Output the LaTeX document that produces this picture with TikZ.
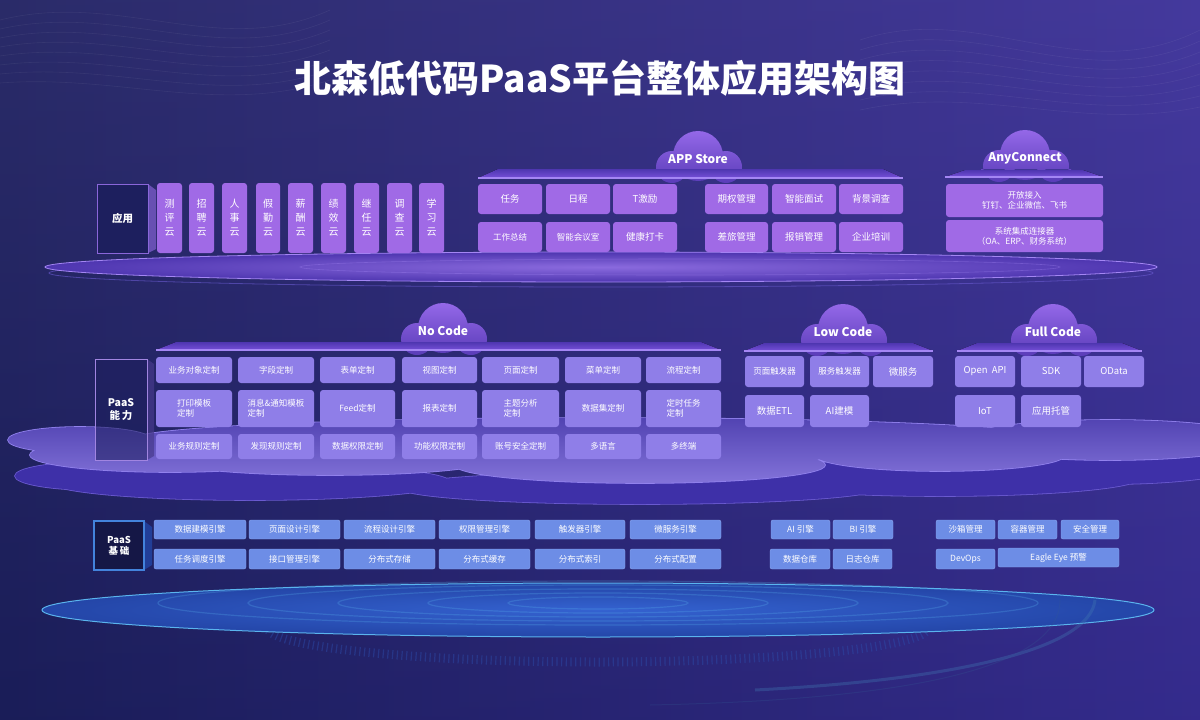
\documentclass[tikz,border=0pt]{standalone}
\usepackage{fontspec}
\setmainfont{Noto Sans CJK SC}
\definecolor{bgL}{HTML}{1A1D58}
\definecolor{bgR}{HTML}{3A2E98}
\definecolor{appC}{HTML}{A06AE6}
\definecolor{ncC}{HTML}{8F7EE8}
\definecolor{bsC}{HTML}{6D8DE6}
\definecolor{bsE}{HTML}{8AA6F0}
\definecolor{cldA}{HTML}{9468E8}
\definecolor{cldB}{HTML}{5A3CB8}
\definecolor{plA}{HTML}{4E36B0}
\definecolor{plB}{HTML}{7650D8}
\definecolor{plLine}{HTML}{A486F4}
\definecolor{lblFill}{HTML}{1D1F5E}
\definecolor{lblEdge}{HTML}{8A66DA}
\definecolor{cloudUp}{HTML}{6450D0}
\definecolor{cloudUpE}{HTML}{9282EE}
\definecolor{cloudLo}{HTML}{3E30A8}
\definecolor{cloudLoE}{HTML}{6A5AD0}
\definecolor{diskA}{HTML}{3462D0}
\definecolor{diskB}{HTML}{2446A8}
\definecolor{diskRim}{HTML}{5AB4EE}
\tikzset{
  box/.style={rounded corners=3pt, text=white, inner sep=1pt, align=center, font=\fontsize{8.5}{10}\selectfont},
  appv/.style={box, fill=appC, font=\fontsize{10}{14}\selectfont},
  appb/.style={box, fill=appC, font=\fontsize{9.5}{11}\selectfont},
  apps/.style={box, fill=appC},
  ncb/.style={box, fill=ncC},
  ncl/.style={box, fill=ncC, align=left},
  lcb/.style={box, fill=ncC, font=\fontsize{9.5}{11}\selectfont},
  bsb/.style={box, fill=bsC, rounded corners=2pt, draw=bsE, line width=0.4pt},
  cloudlbl/.style={text=white, font=\fontsize{12}{14}\selectfont\bfseries},
  sidelbl/.style={text=white, align=center, font=\fontsize{10.5}{13}\selectfont\bfseries},
}
\newcommand\mybox[7]{\node[#1,minimum width={(#4-#2)*1pt},minimum height={(#5-#3)*1pt}] (#6) at ({(#2+#4)/2},{(#3+#5)/2}) {#7};}
\newcommand\cloudhead[4]{%
  \path[top color=cldA,bottom color=cldB] (#2,#3-22) circle[radius=25] (#2-26,#3-11) circle[radius=16] (#2+28,#3-11) circle[radius=16] (#2-44,#3-8) rectangle (#2+46,#3-2);
  \node[cloudlbl] (#1) at (#2,#3-19) {#4};}
\newcommand\platform[4]{%
  \fill[top color=plA,bottom color=plB] (#1,#4) -- (#1+20,#3) -- (#2-20,#3) -- (#2,#4) -- cycle;
  \draw[plLine,line width=1.3pt] (#1,#4) -- (#2,#4);}
\begin{document}
\begin{tikzpicture}[x=1pt,y=-1pt]
\useasboundingbox (0,0) rectangle (1200,720);
% background
\shade[left color=bgL,right color=bgR] (0,0) rectangle (1200,720);
\shade[top color=bgR!70!white,bottom color=bgL,opacity=0.18] (0,0) rectangle (1200,720);
% faint contour lines
\foreach \i in {0,...,7}{
  \draw[white,opacity=0.06,line width=0.6pt] (0,{20+\i*9}) .. controls (120,{-10+\i*12}) and (220,{60+\i*8}) .. (330,{10+\i*10});
  \draw[white,opacity=0.06,line width=0.6pt] (860,{40+\i*10}) .. controls (980,{0+\i*12}) and (1080,{90+\i*6}) .. (1200,{30+\i*11});
}
% title
\node[text=white,font=\fontsize{37}{42}\selectfont\bfseries] (title) at (600,78) {北森低代码PaaS平台整体应用架构图};

% ---------- row 1 platform ellipse ----------
\draw[cloudLoE,opacity=0.6,line width=0.8pt] (601,273) ellipse[x radius=552,y radius=14];
\shade[inner color=plB!85!white,outer color=plA] (601,267) ellipse[x radius=556,y radius=15];
\draw[plLine,line width=0.8pt] (601,267) ellipse[x radius=556,y radius=15];
\draw[plLine,opacity=0.35,line width=0.6pt] (680,267) ellipse[x radius=380,y radius=8];

% label 应用
\fill[lblEdge!70!bgL] (148,184) -- (156,190) -- (156,249) -- (148,253) -- cycle;
\node[draw=lblEdge,fill=lblFill,line width=1pt,minimum width=51pt,minimum height=69pt,sidelbl] (app) at (122.5,218.5) {应用};

% app vertical boxes
\mybox{appv}{157}{183}{182}{253}{a1}{测\\评\\云}
\mybox{appv}{189}{183}{214}{253}{a2}{招\\聘\\云}
\mybox{appv}{222}{183}{247}{253}{a3}{人\\事\\云}
\mybox{appv}{256}{183}{280}{253}{a4}{假\\勤\\云}
\mybox{appv}{288}{183}{313}{253}{a5}{薪\\酬\\云}
\mybox{appv}{321}{183}{346}{253}{a6}{绩\\效\\云}
\mybox{appv}{354}{183}{379}{253}{a7}{继\\任\\云}
\mybox{appv}{387}{183}{412}{253}{a8}{调\\查\\云}
\mybox{appv}{419}{183}{444}{253}{a9}{学\\习\\云}

% APP Store
\cloudhead{appstore}{698}{178}{APP Store}
\platform{478}{903}{169}{178}
\mybox{appb}{478}{184}{542}{214}{s1}{任务}
\mybox{appb}{546}{184}{610}{214}{s2}{日程}
\mybox{appb}{613}{184}{677}{214}{s3}{T激励}
\mybox{appb}{705}{184}{768}{214}{s4}{期权管理}
\mybox{appb}{772}{184}{836}{214}{s5}{智能面试}
\mybox{appb}{839}{184}{903}{214}{s6}{背景调查}
\mybox{apps}{478}{222}{542}{252}{s7}{工作总结}
\mybox{apps}{546}{222}{610}{252}{s8}{智能会议室}
\mybox{appb}{613}{222}{677}{252}{s9}{健康打卡}
\mybox{appb}{705}{222}{768}{252}{s10}{差旅管理}
\mybox{appb}{772}{222}{836}{252}{s11}{报销管理}
\mybox{appb}{839}{222}{903}{252}{s12}{企业培训}

% AnyConnect
\cloudhead{anyconnect}{1025}{177}{AnyConnect}
\platform{945}{1103}{170}{177}
\mybox{apps}{946}{184}{1103}{217}{c1}{开放接入\\钉钉、企业微信、飞书}
\mybox{apps}{946}{220}{1103}{252}{c2}{系统集成连接器\\（OA、ERP、财务系统）}

% ---------- row 2 clouds ----------
\def\lowcloud{(95,476) ellipse[x radius=80,y radius=14] (250,482) ellipse[x radius=200,y radius=18] (640,488) ellipse[x radius=240,y radius=16] (940,478) ellipse[x radius=200,y radius=18] (1110,462) ellipse[x radius=140,y radius=22]}
\draw[cloudLoE,line width=1.6pt] \lowcloud;
\fill[cloudLo] \lowcloud;
\def\upcloud{(80,440) ellipse[x radius=72,y radius=13] (170,455) ellipse[x radius=140,y radius=17] (330,460) ellipse[x radius=160,y radius=15] (640,465) ellipse[x radius=185,y radius=18] (940,455) ellipse[x radius=125,y radius=16] (1110,440) ellipse[x radius=150,y radius=20] (600,440) ellipse[x radius=470,y radius=22]}
\draw[cloudUpE,line width=1.6pt] \upcloud;
\shade[top color=cloudUp!75!bgL,bottom color=cloudUp!80!white] \upcloud;

% label PaaS能力
\fill[lblEdge!40!bgL,opacity=0.7] (147,359) -- (154,364) -- (154,456) -- (147,460) -- cycle;
\node[draw=lblEdge!80!white,fill=lblFill,fill opacity=0.55,text opacity=1,line width=0.8pt,minimum width=52pt,minimum height=101pt,sidelbl] (paas) at (121,409.5) {PaaS\\能\,力};

% No Code
\cloudhead{nocode}{443}{350}{No Code}
\platform{156}{721}{342}{350}
\mybox{ncb}{156}{357}{232}{383}{n11}{业务对象定制}
\mybox{ncb}{238}{357}{314}{383}{n12}{字段定制}
\mybox{ncb}{320}{357}{395}{383}{n13}{表单定制}
\mybox{ncb}{402}{357}{477}{383}{n14}{视图定制}
\mybox{ncb}{482}{357}{559}{383}{n15}{页面定制}
\mybox{ncb}{565}{357}{641}{383}{n16}{菜单定制}
\mybox{ncb}{646}{357}{721}{383}{n17}{流程定制}
\mybox{ncl}{156}{390}{232}{427}{n21}{打印模板\\定制}
\mybox{ncl}{238}{390}{314}{427}{n22}{消息\&通知模板\\定制}
\mybox{ncb}{320}{390}{395}{427}{n23}{Feed定制}
\mybox{ncb}{402}{390}{477}{427}{n24}{报表定制}
\mybox{ncl}{482}{390}{559}{427}{n25}{主题分析\\定制}
\mybox{ncb}{565}{390}{641}{427}{n26}{数据集定制}
\mybox{ncl}{646}{390}{721}{427}{n27}{定时任务\\定制}
\mybox{ncb}{156}{434}{232}{459}{n31}{业务规则定制}
\mybox{ncb}{238}{434}{314}{459}{n32}{发现规则定制}
\mybox{ncb}{320}{434}{395}{459}{n33}{数据权限定制}
\mybox{ncb}{402}{434}{477}{459}{n34}{功能权限定制}
\mybox{ncb}{482}{434}{559}{459}{n35}{账号安全定制}
\mybox{ncb}{565}{434}{641}{459}{n36}{多语言}
\mybox{ncb}{646}{434}{721}{459}{n37}{多终端}

% Low Code
\cloudhead{lowcode}{843}{351}{Low Code}
\platform{744}{933}{343}{351}
\mybox{ncb}{745}{356}{804}{387}{l1}{页面触发器}
\mybox{ncb}{810}{356}{869}{387}{l2}{服务触发器}
\mybox{lcb}{873}{356}{933}{387}{l3}{微服务}
\mybox{lcb}{745}{395}{804}{427}{l4}{数据ETL}
\mybox{lcb}{810}{395}{869}{427}{l5}{AI建模}

% Full Code
\cloudhead{fullcode}{1053}{351}{Full Code}
\platform{957}{1142}{343}{351}
\mybox{lcb}{955}{356}{1015}{387}{f1}{Open\ \ API}
\mybox{lcb}{1021}{356}{1081}{387}{f2}{SDK}
\mybox{lcb}{1084}{356}{1144}{387}{f3}{OData}
\mybox{lcb}{955}{395}{1015}{427}{f4}{IoT}
\mybox{lcb}{1021}{395}{1081}{427}{f5}{应用托管}

% ---------- row 3 ----------
\fill[diskB!80!bgL] (144,521) -- (152,527) -- (152,565) -- (144,570) -- cycle;
\node[draw=diskRim!40!diskA,fill=bgL!80!black,line width=1.2pt,minimum width=50pt,minimum height=49pt,sidelbl,font=\fontsize{9.5}{11}\selectfont\bfseries] (base) at (119,545.5) {PaaS\\基\,础};

\mybox{bsb}{154}{520}{246}{539}{b11}{数据建模引擎}
\mybox{bsb}{249}{520}{340}{539}{b12}{页面设计引擎}
\mybox{bsb}{344}{520}{435}{539}{b13}{流程设计引擎}
\mybox{bsb}{439}{520}{530}{539}{b14}{权限管理引擎}
\mybox{bsb}{535}{520}{625}{539}{b15}{触发器引擎}
\mybox{bsb}{630}{520}{721}{539}{b16}{微服务引擎}
\mybox{bsb}{154}{549}{246}{569}{b21}{任务调度引擎}
\mybox{bsb}{249}{549}{340}{569}{b22}{接口管理引擎}
\mybox{bsb}{344}{549}{435}{569}{b23}{分布式存储}
\mybox{bsb}{439}{549}{530}{569}{b24}{分布式缓存}
\mybox{bsb}{535}{549}{625}{569}{b25}{分布式索引}
\mybox{bsb}{630}{549}{721}{569}{b26}{分布式配置}

\mybox{bsb}{771}{520}{830}{539}{b31}{AI 引擎}
\mybox{bsb}{833}{520}{893}{539}{b32}{BI 引擎}
\mybox{bsb}{770}{549}{830}{569}{b33}{数据仓库}
\mybox{bsb}{833}{549}{892}{569}{b34}{日志仓库}

\mybox{bsb}{936}{520}{995}{539}{b41}{沙箱管理}
\mybox{bsb}{998}{520}{1057}{539}{b42}{容器管理}
\mybox{bsb}{1061}{520}{1119}{539}{b43}{安全管理}
\mybox{bsb}{936}{549}{995}{569}{b44}{DevOps}
\mybox{bsb}{998}{548}{1119}{567}{b45}{Eagle Eye 预警}

% ---------- bottom disk ----------
\draw[diskA!70!bgL,opacity=0.45,line width=9pt,dash pattern=on 1.2pt off 3.5pt] (598,628) ellipse[x radius=330,y radius=34];
\shade[inner color=diskA,outer color=diskB] (598,610) ellipse[x radius=556,y radius=27];
\draw[diskRim,line width=1pt] (598,610) ellipse[x radius=556,y radius=27];
\foreach \r/\s in {440/22,350/18,260/14,170/10,90/6}{
  \draw[diskRim,opacity=0.25,line width=1.2pt] (598,603) ellipse[x radius=\r,y radius=\s];
}
\draw[diskRim!60!bgL,opacity=0.35,line width=3pt] (755,690) .. controls (950,680) and (1090,650) .. (1095,600);
\draw[diskRim!40!bgL,opacity=0.25,line width=1pt] (650,705) .. controls (900,700) and (1060,670) .. (1060,600);
\end{tikzpicture}
\end{document}
